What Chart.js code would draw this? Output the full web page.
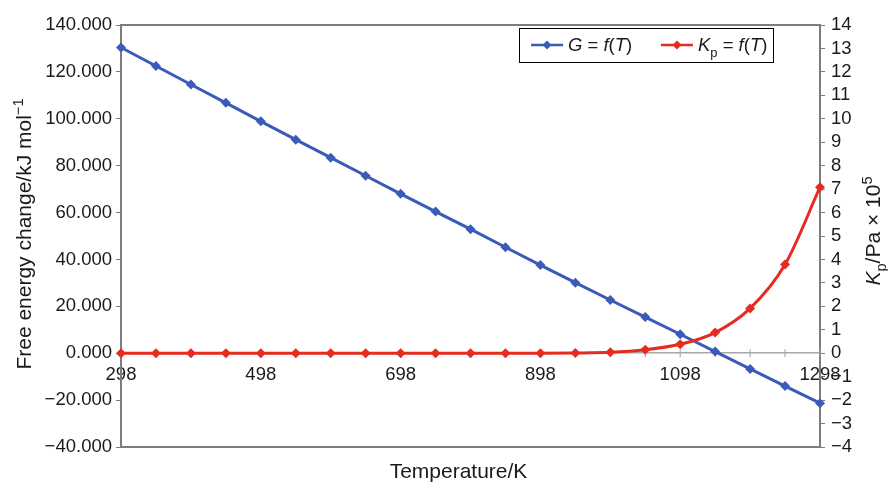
<!DOCTYPE html>
<html>
<head>
<meta charset="utf-8">
<script src="https://cdn.jsdelivr.net/npm/chart.js@4/dist/chart.umd.min.js"></script>
<style>
html,body{margin:0;padding:0;background:#fff;}
#wrap{width:888px;height:482px;position:relative;}
</style>
</head>
<body>
<div id="wrap"><canvas id="c" width="888" height="482"></canvas></div>
<script>
const temperatures = ['298','348','398','448','498','548','598','648','698','748','798','848','898','948','998','1048','1098','1148','1198','1248','1298'];
const freeEnergy = [130.4,122.5,114.6,106.8,98.9,91.1,83.4,75.7,68.0,60.4,52.9,45.2,37.6,30.1,22.7,15.4,8.1,0.7,-6.7,-14.0,-21.3];
const kp = [0,0,0,0,0,0,0,0,0,0,0,0,0,0.01,0.04,0.15,0.38,0.88,1.91,3.78,7.08];
const leftTicks = {min:-40, max:140, step:20};
const rightTicks = {min:-4, max:14, step:1};

const FONT = '"Liberation Sans", Arial, Helvetica, sans-serif';
const BLUE = '#3a5bb7';
const RED = '#e62b20';
const AXIS = '#7d7d7d';
const TXT = '#1a1a1a';

function fmtMinus(s){ return s.replace('-', '\u2212'); }

function drawRich(ctx, parts, x, y, size, align){
  const measure = p => {
    const s = (p.sub||p.sup) ? size*0.7 : size;
    ctx.font = (p.it?'italic ':'') + s + 'px ' + FONT;
    return ctx.measureText(p.t).width;
  };
  let total = 0;
  parts.forEach(p => total += measure(p));
  let cx = align === 'center' ? x - total/2 : x;
  parts.forEach(p => {
    const s = (p.sub||p.sup) ? size*0.7 : size;
    ctx.font = (p.it?'italic ':'') + s + 'px ' + FONT;
    let dy = 0;
    if (p.sub) dy = size*0.3;
    if (p.sup) dy = -size*0.4;
    ctx.fillText(p.t, cx, y + dy);
    cx += ctx.measureText(p.t).width;
  });
}

const decor = {
  id:'decor',
  beforeDatasetsDraw(chart){
    const {ctx, chartArea:a} = chart;
    ctx.save();
    ctx.strokeStyle = AXIS;
    ctx.lineWidth = 2;
    ctx.beginPath();
    ctx.moveTo(a.left, a.top); ctx.lineTo(a.right, a.top);
    ctx.moveTo(a.left, a.bottom); ctx.lineTo(a.right, a.bottom);
    ctx.stroke();
    const xs = chart.scales.x, ys = chart.scales.y;
    const y0 = ys.getPixelForValue(0);
    ctx.lineWidth = 1;
    ctx.strokeStyle = '#a0a0a0';
    ctx.beginPath();
    temperatures.forEach((t,i)=>{
      const px = xs.getPixelForValue(i);
      ctx.moveTo(px, y0-4); ctx.lineTo(px, y0+4);
    });
    ctx.stroke();
    ctx.restore();
  },
  afterDraw(chart){
    const {ctx, chartArea:a} = chart;
    ctx.save();
    ctx.fillStyle = TXT;
    ctx.textBaseline = 'alphabetic';
    ctx.font = '21px ' + FONT;
    ctx.textAlign = 'center';
    ctx.fillText('Temperature/K', (a.left+a.right)/2 - 12, 478);
    ctx.textAlign = 'left';
    ctx.save();
    ctx.translate(31, (a.top+a.bottom)/2 - 2);
    ctx.rotate(-Math.PI/2);
    drawRich(ctx, [{t:'Free energy change/kJ mol'},{t:'\u22121',sup:true}], 0, 0, 21, 'center');
    ctx.restore();
    ctx.save();
    ctx.translate(880, (a.top+a.bottom)/2 - 5);
    ctx.rotate(-Math.PI/2);
    drawRich(ctx, [{t:'K',it:true},{t:'p',sub:true},{t:'/Pa \u00d7 10'},{t:'5',sup:true}], 0, 0, 21, 'center');
    ctx.restore();
    const lx = a.right - 301, ly = a.top + 3, lw = 254, lh = 34;
    ctx.fillStyle = '#fff';
    ctx.fillRect(lx, ly, lw, lh);
    ctx.strokeStyle = '#000';
    ctx.lineWidth = 1;
    ctx.strokeRect(lx+0.5, ly+0.5, lw, lh);
    const cy = ly + lh/2;
    const entry = (x0, color, parts) => {
      ctx.strokeStyle = color; ctx.lineWidth = 2.5;
      ctx.beginPath(); ctx.moveTo(x0, cy); ctx.lineTo(x0+32, cy); ctx.stroke();
      ctx.fillStyle = color;
      ctx.beginPath();
      ctx.moveTo(x0+16, cy-4.5); ctx.lineTo(x0+20.5, cy); ctx.lineTo(x0+16, cy+4.5); ctx.lineTo(x0+11.5, cy); ctx.closePath(); ctx.fill();
      ctx.fillStyle = TXT;
      drawRich(ctx, parts, x0+37, cy+6, 18.5, 'left');
    };
    entry(lx+12, BLUE, [{t:'G',it:true},{t:' = '},{t:'f',it:true},{t:'('},{t:'T',it:true},{t:')'}]);
    entry(lx+142, RED, [{t:'K',it:true},{t:'p',sub:true},{t:' = '},{t:'f',it:true},{t:'('},{t:'T',it:true},{t:')'}]);
    ctx.restore();
  }
};

new Chart(document.getElementById('c'), {
  type:'line',
  data:{
    labels: temperatures,
    datasets:[
      {label:'G = f(T)', data: freeEnergy, yAxisID:'y', borderColor:BLUE, backgroundColor:BLUE,
       pointBackgroundColor:BLUE, pointBorderColor:BLUE, borderWidth:3, pointStyle:'rectRot', pointRadius:5, pointBorderWidth:0, tension:0, order:1},
      {label:'Kp = f(T)', data: kp, yAxisID:'y1', borderColor:RED, backgroundColor:RED,
       pointBackgroundColor:RED, pointBorderColor:RED, borderWidth:3, pointStyle:'rectRot', pointRadius:5, pointBorderWidth:0, tension:0.35, cubicInterpolationMode:'monotone', order:0}
    ]
  },
  options:{
    responsive:false,
    animation:false,
    layout:{padding:{top:25, bottom:35, left:0, right:0}},
    plugins:{legend:{display:false}, tooltip:{enabled:false}},
    scales:{
      x:{
        type:'category',
        offset:false,
        position:{y:0},
        afterFit(s){ s.height = 0; },
        grid:{display:false, drawOnChartArea:false},
        border:{display:true, color:'#a8a8a8', width:1.5},
        ticks:{autoSkip:false, maxRotation:0, minRotation:0, padding:3, color:TXT,
               font:{family:FONT, size:18.5},
               callback(v, i){ return i % 4 === 0 ? temperatures[i] : ''; }}
      },
      y:{
        position:'left',
        min:leftTicks.min, max:leftTicks.max,
        afterFit(s){ s.width = 121; },
        grid:{drawOnChartArea:false, drawTicks:true, tickLength:5, color:AXIS},
        border:{display:true, color:AXIS, width:2},
        ticks:{autoSkip:false, stepSize:leftTicks.step, padding:4, color:TXT, font:{family:FONT, size:18.5},
               callback(v){ return fmtMinus(v.toFixed(3)); }}
      },
      y1:{
        position:'right',
        min:rightTicks.min, max:rightTicks.max,
        afterFit(s){ s.width = 68; },
        grid:{drawOnChartArea:false, drawTicks:true, tickLength:5, color:AXIS},
        border:{display:true, color:AXIS, width:2},
        ticks:{autoSkip:false, stepSize:rightTicks.step, padding:6, color:TXT, font:{family:FONT, size:18.5},
               callback(v){ return fmtMinus(String(v)); }}
      }
    }
  },
  plugins:[decor]
});
</script>
</body>
</html>
